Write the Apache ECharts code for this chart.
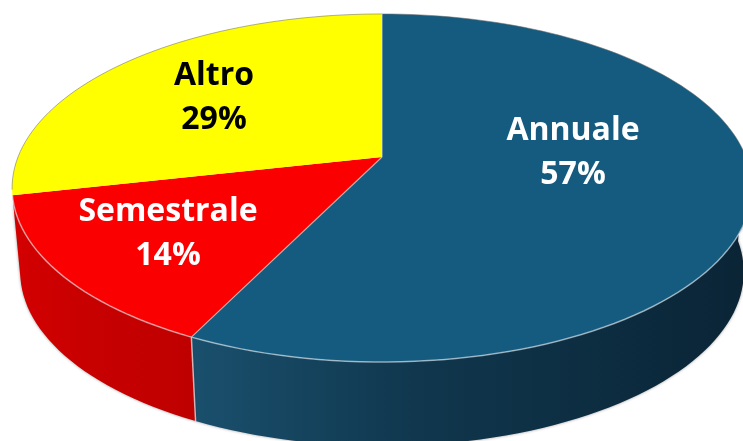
<!DOCTYPE html>
<html>
<head>
    <meta charset="utf-8" />
    <style>
        html, body { margin: 0; padding: 0; background: #fff; }
        #main { width: 743px; height: 441px; }
    </style>
    <script src="https://cdn.jsdelivr.net/npm/echarts@6/dist/echarts.min.js"></script>
</head>
<body>
<div id="main"></div>
<script type="text/javascript">
    // data
    var categories = ['Annuale', 'Semestrale', 'Altro'];
    var shares = [57.25, 14.25, 28.5];

    // colours, one per slice
    var topColors = ['#155b7f', '#fb0000', '#ffff00'];
    var wallFrom = ['#1a506d', '#d40000', '#c8c800'];
    var wallMid = ['#10374e', '#c80000', '#c8c800'];
    var wallTo = ['#0a2435', '#bf0000', '#c8c800'];
    var labelColors = ['#ffffff', '#ffffff', '#000000'];

    // layout of the tilted disc (apex is the point where the slices meet)
    var apex = [382, 157];
    var a = 364, b = 168.5, k = 0.178;
    var wallRx = 0.978, wallDrop = 84;
    var labelAnchors = [[573, 153], [168, 234], [214, 98]];

    // percent along the pie -> screen point, with a bit of perspective
    function project(pct, scale, drop) {
        var t = pct / 100 * Math.PI * 2;
        var u = Math.sin(t), v = -Math.cos(t);
        var w = 1 - k * v;
        return [apex[0] + a * scale * u / w, apex[1] + drop + b * v / w];
    }

    function arc(from, to, scale, drop) {
        var pts = [], n = Math.max(2, Math.ceil((to - from) * 2));
        for (var i = 0; i <= n; i++) {
            pts.push(project(from + (to - from) * i / n, scale, drop));
        }
        return pts;
    }

    // start of a slice, in percent of the whole turn
    function startOf(index) {
        var total = 0, start = 0;
        for (var j = 0; j < shares.length; j++) {
            if (j < index) start += shares[j];
            total += shares[j];
        }
        return start / total * 100;
    }

    function renderSlice(params, api) {
        var i = params.dataIndex;
        var from = startOf(i);
        var to = i === shares.length - 1 ? 100 : startOf(i + 1);
        var children = [];

        // side wall, only the part facing the viewer
        var wa = Math.max(from, 25), wb = Math.min(to, 72);
        var hasWall = wb - wa > 1;
        if (hasWall) {
            children.push({
                type: 'polygon',
                shape: { points: arc(wa, wb, 1, 0).concat(arc(wa, wb, wallRx, wallDrop).reverse()) },
                style: {
                    fill: new echarts.graphic.LinearGradient(0, 0, 1, 0, [
                        { offset: 0, color: wallFrom[i] },
                        { offset: 0.4, color: wallMid[i] },
                        { offset: 1, color: wallTo[i] }
                    ]),
                    shadowColor: 'rgba(0,0,0,0.4)',
                    shadowBlur: 3
                }
            });
        }

        // top face
        children.push({
            type: 'polygon',
            shape: { points: [apex].concat(arc(from, to, 1, 0)) },
            style: { fill: topColors[i] }
        });

        // back edge is faint grey, front rim is a light highlight
        var edge = { fill: null, stroke: 'rgba(110,110,110,0.55)', lineWidth: 1 };
        if (from < 25) {
            children.push({ type: 'polyline', shape: { points: arc(from, Math.min(to, 25), 1, 0) }, style: edge });
        }
        if (to > 72) {
            children.push({ type: 'polyline', shape: { points: arc(Math.max(from, 72), to, 1, 0) }, style: edge });
        }
        if (hasWall) {
            children.push({ type: 'polyline', shape: { points: arc(wa, wb, 1, 0) },
                style: { fill: null, stroke: 'rgba(225,235,240,0.6)', lineWidth: 1.5 } });
        }

        return { type: 'group', children: children };
    }

    // thin light seams at the top of the pie and between blue and red
    function renderSeams(params, api) {
        var i = params.dataIndex;
        var end = startOf(i);
        var p = project(end, 1, 0);
        var children = [];
        if (i !== 2) {
            children.push({ type: 'line', shape: { x1: apex[0], y1: apex[1], x2: p[0], y2: p[1] },
                style: { stroke: 'rgba(225,225,215,0.65)', lineWidth: 1.2 } });
        }
        if (i === 1) {
            var q = project(end, wallRx, wallDrop);
            children.push({ type: 'line', shape: { x1: p[0], y1: p[1], x2: q[0], y2: q[1] },
                style: { stroke: 'rgba(225,225,225,0.75)', lineWidth: 1.5 } });
        }
        return { type: 'group', children: children };
    }

    function renderLabel(params, api) {
        var i = params.dataIndex;
        return {
            type: 'text',
            x: labelAnchors[i][0],
            y: labelAnchors[i][1],
            style: {
                text: categories[i] + '\n' + Math.round(api.value(0)) + '%',
                fill: labelColors[i],
                font: '700 32px "Open Sans"',
                lineHeight: 44,
                align: 'center',
                verticalAlign: 'middle'
            }
        };
    }

    var myChart = echarts.init(document.getElementById('main'));
    myChart.setOption({
        backgroundColor: '#ffffff',
        animation: false,
        series: [
            { type: 'custom', coordinateSystem: 'none', renderItem: renderSlice, data: shares, z: 1 },
            { type: 'custom', coordinateSystem: 'none', renderItem: renderSeams, data: shares, z: 2 },
            { type: 'custom', coordinateSystem: 'none', renderItem: renderLabel, data: shares, z: 3 }
        ]
    });
</script>
</body>
</html>
